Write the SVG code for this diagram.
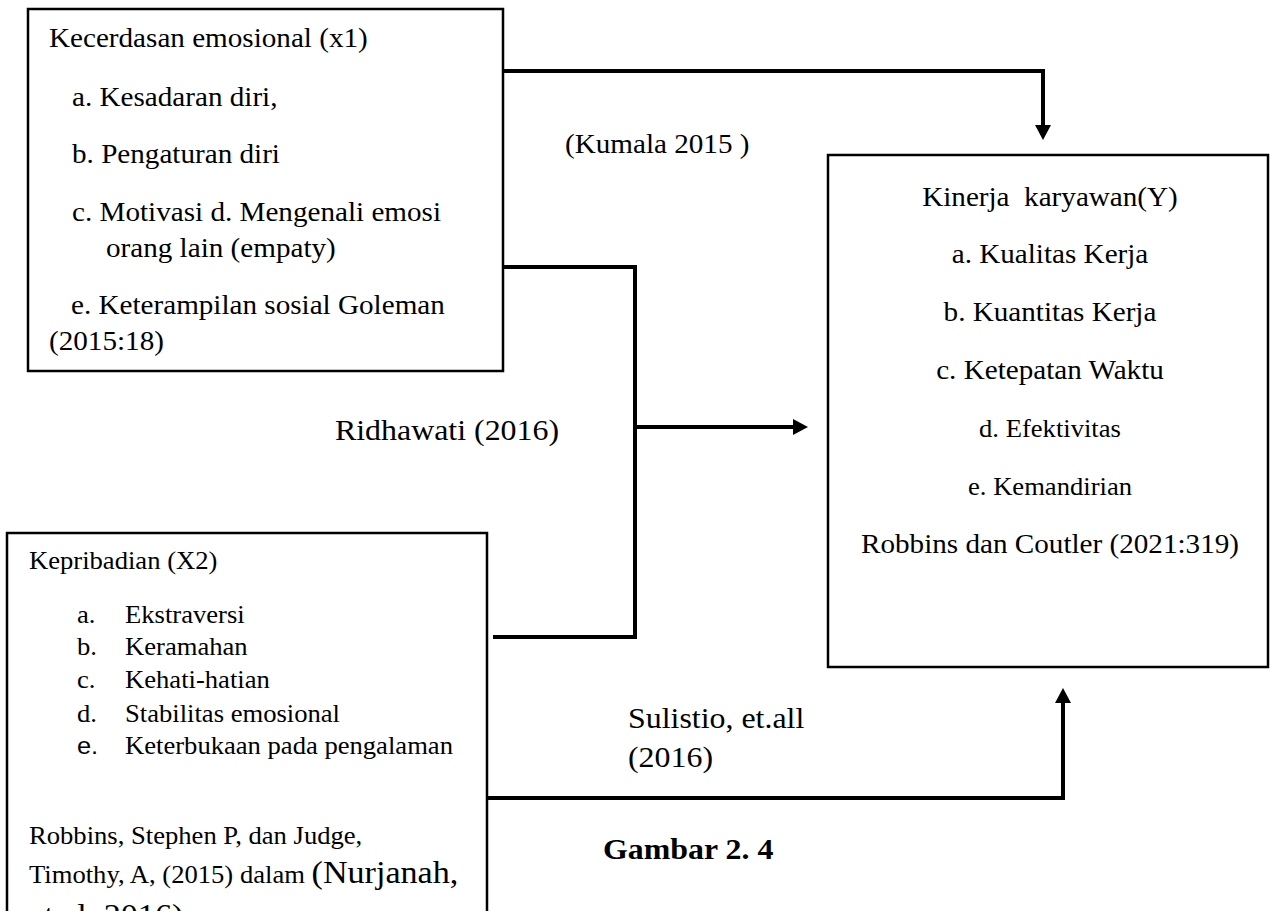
<svg xmlns="http://www.w3.org/2000/svg" width="1271" height="911" viewBox="0 0 1271 911">
<style>
text { font-family: "Liberation Serif", "Times New Roman", serif; fill: #000; }
.f26 { font-size: 26.5px; }
.f24 { font-size: 24.2px; }
.f29 { font-size: 29px; }
.big { font-size: 31px; }
.sans { font-family: "Liberation Sans", Arial, sans-serif; }
.box { fill: #fff; stroke: #000; stroke-width: 2.5; }
.con { fill: none; stroke: #000; stroke-width: 4; stroke-linejoin: miter; }
.mid { text-anchor: middle; }
.b { font-weight: bold; }
</style>
<defs>
<marker id="ah" viewBox="0 0 15 16" refX="0" refY="8" markerWidth="15" markerHeight="16" orient="auto" markerUnits="userSpaceOnUse">
<path d="M0,0 L15,8 L0,16 Z" fill="#000"/>
</marker>
</defs>
<rect width="1271" height="911" fill="#fff"/>

<g id="connectors">
<path class="con" d="M503,71 H1043 V125" marker-end="url(#ah)"/>
<path class="con" d="M500,267 H635 V637 H493"/>
<path class="con" d="M635,427 H793" marker-end="url(#ah)"/>
<path class="con" d="M486,798 H1063 V703" marker-end="url(#ah)"/>
</g>

<g id="node-x1">
<rect class="box" x="28" y="9" width="475" height="362"/>
<text class="f26" transform="translate(49 47) scale(1.1 1)">Kecerdasan emosional (x1)</text>
<text class="f26" transform="translate(72 106) scale(1.1 1)">a. Kesadaran diri,</text>
<text class="f26" transform="translate(72 163) scale(1.1 1)">b. Pengaturan diri</text>
<text class="f26" transform="translate(72 221) scale(1.1 1)">c. Motivasi d. Mengenali emosi</text>
<text class="f26" transform="translate(106 257) scale(1.1 1)">orang lain (empaty)</text>
<text class="f26" transform="translate(71 314) scale(1.1 1)">e. Keterampilan sosial Goleman</text>
<text class="f26" transform="translate(49 350) scale(1.1 1)">(2015:18)</text>
</g>

<g id="node-y">
<rect class="box" x="828" y="155" width="440" height="512"/>
<text class="f26 mid" xml:space="preserve" transform="translate(1050 206) scale(1.1 1)">Kinerja  karyawan(Y)</text>
<text class="f26 mid" transform="translate(1050 263) scale(1.1 1)">a. Kualitas Kerja</text>
<text class="f26 mid" transform="translate(1050 321) scale(1.1 1)">b. Kuantitas Kerja</text>
<text class="f26 mid" transform="translate(1050 379) scale(1.1 1)">c. Ketepatan Waktu</text>
<text class="f24 mid" transform="translate(1050 437) scale(1.1 1)">d. Efektivitas</text>
<text class="f24 mid" transform="translate(1050 495) scale(1.1 1)">e. Kemandirian</text>
<text class="f26 mid" transform="translate(1050 553) scale(1.1 1)">Robbins dan Coutler (2021:319)</text>
</g>

<g id="node-x2">
<rect class="box" x="7" y="533" width="480" height="400"/>
<text class="f24" transform="translate(29 569) scale(1.1 1)">Kepribadian (X2)</text>
<text class="f24" transform="translate(77 623) scale(1.1 1)">a.</text>
<text class="f24" transform="translate(125 623) scale(1.1 1)">Ekstraversi</text>
<text class="f24" transform="translate(77 655) scale(1.1 1)">b.</text>
<text class="f24" transform="translate(125 655) scale(1.1 1)">Keramahan</text>
<text class="f24" transform="translate(77 688) scale(1.1 1)">c.</text>
<text class="f24" transform="translate(125 688) scale(1.1 1)">Kehati-hatian</text>
<text class="f24" transform="translate(77 722) scale(1.1 1)">d.</text>
<text class="f24" transform="translate(125 722) scale(1.1 1)">Stabilitas emosional</text>
<text class="f24 sans" transform="translate(77 754) scale(1.05 1)">e.</text>
<text class="f24" transform="translate(125 754) scale(1.1 1)">Keterbukaan pada pengalaman</text>
<text class="f24" transform="translate(29 844) scale(1.1 1)">Robbins, Stephen P, dan Judge,</text>
<text class="f24" xml:space="preserve" transform="translate(29 883) scale(1.1 1)">Timothy, A, (2015) dalam <tspan class="big">(Nurjanah,</tspan></text>
<text class="big" transform="translate(29 926) scale(1.1 1)">et.al, 2016)</text>
</g>

<g id="labels">
<text class="f26" transform="translate(565 153) scale(1.1 1)">(Kumala 2015 )</text>
<text class="f29" transform="translate(335 440) scale(1.1 1)">Ridhawati (2016)</text>
<text class="f29" transform="translate(628 728) scale(1.1 1)">Sulistio, et.all</text>
<text class="f29" transform="translate(628 767) scale(1.1 1)">(2016)</text>
<text class="f29 b" transform="translate(603 859) scale(1.1 1)">Gambar 2. 4</text>
</g>
</svg>
